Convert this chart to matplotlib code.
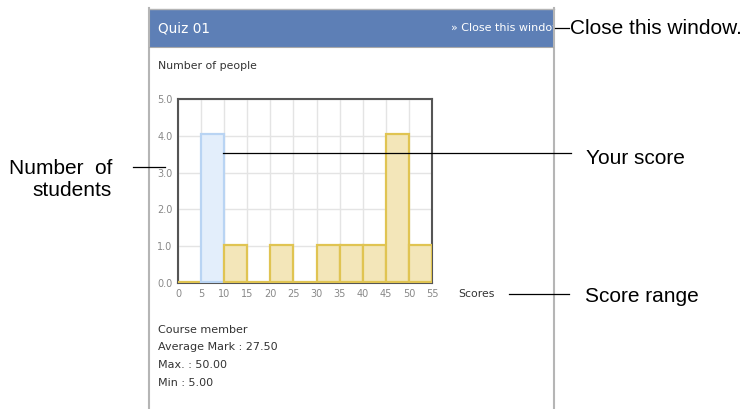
import matplotlib
matplotlib.use("Agg")
import matplotlib.pyplot as plt
from matplotlib.patches import Rectangle
from matplotlib.transforms import ScaledTranslation

# Data
bin_edges = [0, 5, 10, 15, 20, 25, 30, 35, 40, 45, 50]
counts = [0, 4, 1, 0, 1, 0, 1, 1, 1, 4, 1]
your_bin = 5
x_ticks = [0, 5, 10, 15, 20, 25, 30, 35, 40, 45, 50, 55]
y_ticks = [0.0, 1.0, 2.0, 3.0, 4.0, 5.0]
title = "Quiz 01"
stats_lines = ["Course member", "Average Mark : 27.50", "Max. : 50.00", "Min : 5.00"]

W, H = 745, 409
fig = plt.figure(figsize=(W / 100, H / 100), dpi=100)
fig.patch.set_facecolor("white")

ui_font = "DejaVu Sans"
ann_font = "Liberation Sans"

# Chart axes
L, R, T, B = 178, 432, 99, 283
ax = fig.add_axes([L / W, 1 - B / H, (R - L) / W, (B - T) / H], zorder=1)
colors = ["#e3eefb" if e == your_bin else "#f3e6b9" for e in bin_edges]
edges = ["#b9d4f3" if e == your_bin else "#e0c452" for e in bin_edges]
bars = ax.bar(bin_edges, counts, width=5, align="edge", color=colors, edgecolor=edges,
              linewidth=1.6, zorder=3)
lift = ax.transData + ScaledTranslation(0, 1.0 / 72, fig.dpi_scale_trans)
for p in bars:
    p.set_transform(lift)
ax.set_xlim(0, 55)
ax.set_ylim(0, 5)
ax.set_xticks(x_ticks)
ax.set_yticks(y_ticks)
ax.set_yticklabels([f"{v:.1f}" for v in y_ticks])
ax.grid(True, color="#e4e4e4", linewidth=1.0, zorder=0)
ax.set_axisbelow(True)
ax.tick_params(length=0, labelsize=7, labelcolor="#888888", pad=4)
for lab in ax.get_xticklabels() + ax.get_yticklabels():
    lab.set_family(ui_font)
for s in ax.spines.values():
    s.set_color("#555555")
    s.set_linewidth(1.5)

# Overlay axes in pixel coordinates
ov = fig.add_axes([0, 0, 1, 1], zorder=2)
ov.set_xlim(0, W)
ov.set_ylim(H, 0)
ov.axis("off")
ov.patch.set_alpha(0)

# Panel
ov.add_patch(Rectangle((149, 9), 404, 38, facecolor="#5d7fb6", edgecolor="none", zorder=1))
ov.text(158, 28, title, fontsize=9.8, color="white", va="center", ha="left", family=ui_font, zorder=2)
ov.text(451, 28, "» Close this window", fontsize=8, color="white", va="center", ha="left",
        family=ui_font, zorder=2)
ov.add_patch(Rectangle((553.5, 0), 200, 60, facecolor="white", edgecolor="none", zorder=3))
ov.plot([148.5, 148.5], [8, H], color="#b5b5b5", lw=1.5, zorder=4)
ov.plot([553.5, 553.5], [8, H], color="#b5b5b5", lw=1.5, zorder=4)
ov.plot([148.5, 553.5], [8.5, 8.5], color="#b5b5b5", lw=1.0, zorder=4)
ov.plot([149, 553], [47, 47], color="#a9a9a9", lw=0.8, zorder=4)

ov.text(158, 66, "Number of people", fontsize=7.8, color="#333333", va="center", ha="left", family=ui_font)
ov.text(458, 294, "Scores", fontsize=7.8, color="#333333", va="center", ha="left", family=ui_font)
for i, line in enumerate(stats_lines):
    ov.text(158, 330 + i * 17.5, line, fontsize=8, color="#333333", va="center", ha="left", family=ui_font)

# Annotations
fs = 15.0
ov.plot([555, 569], [28, 28], color="black", lw=0.9, zorder=5)
ov.text(570, 29, "Close this window.", fontsize=fs, color="black", va="center", ha="left",
        family=ann_font, zorder=5)
ov.plot([223, 571], [152.5, 152.5], color="black", lw=0.9, zorder=5)
ov.text(586, 159, "Your score", fontsize=fs, color="black", va="center", ha="left", family=ann_font, zorder=5)
ov.plot([133, 165], [166.5, 166.5], color="black", lw=0.9, zorder=5)
ov.text(112, 168, "Number  of", fontsize=fs, color="black", va="center", ha="right", family=ann_font, zorder=5)
ov.text(112, 190, "students", fontsize=fs, color="black", va="center", ha="right", family=ann_font, zorder=5)
ov.plot([509, 569], [294, 294], color="black", lw=0.9, zorder=5)
ov.text(585, 296, "Score range", fontsize=fs, color="black", va="center", ha="left", family=ann_font, zorder=5)

fig.savefig("out.png", dpi=100)
